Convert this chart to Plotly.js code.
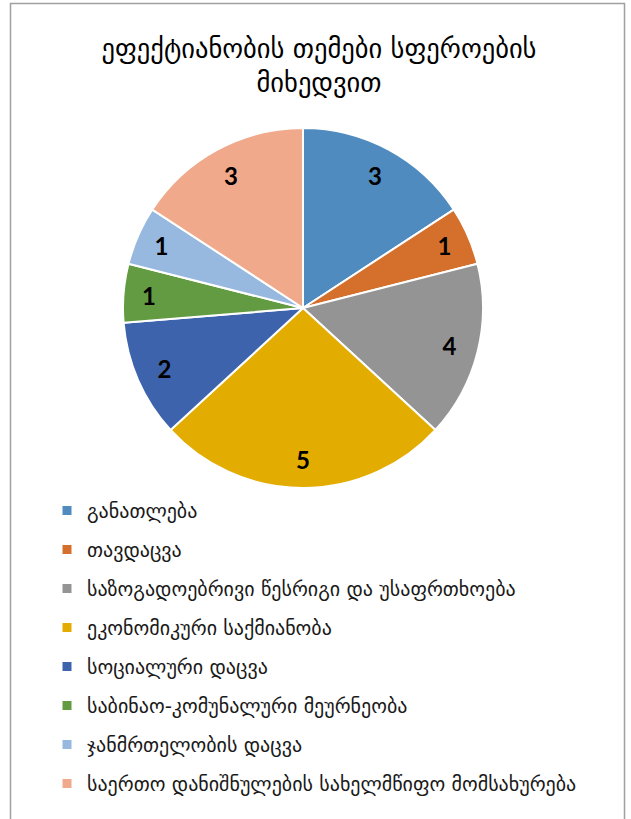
<!DOCTYPE html>
<html>
<head>
<meta charset="utf-8">
<script src="https://cdn.plot.ly/plotly-3.0.1.min.js"></script>
<style>
  html, body { margin: 0; padding: 0; background: #ffffff; }
  #chart { width: 631px; height: 819px; }
</style>
</head>
<body>
<div id="chart"></div>
<script>
// Categories (legend order = slice order, clockwise from 12 o'clock)
const categories = [
  "განათლება",
  "თავდაცვა",
  "საზოგადოებრივი წესრიგი და უსაფრთხოება",
  "ეკონომიკური საქმიანობა",
  "სოციალური დაცვა",
  "საბინაო-კომუნალური მეურნეობა",
  "ჯანმრთელობის დაცვა",
  "საერთო დანიშნულების სახელმწიფო მომსახურება"
];
// Slice sizes as measured from the slice angles in the picture
const sliceValues = [3, 1, 3, 5, 2, 1, 1, 3];
// Data labels exactly as printed on the slices in the picture
const dataLabels = ["3", "1", "4", "5", "2", "1", "1", "3"];
const sliceColors = ["#4f8bbf", "#d4702b", "#949494", "#e3ac00", "#3d63ac", "#629b41", "#97b8df", "#f0a98a"];

const titleText = "ეფექტიანობის თემები სფეროების<br>მიხედვით";

const W = 631, H = 819;
const cx = 303, cy = 308, R = 180;
const pieDomain = { x: [(cx - R) / W, (cx + R) / W], y: [1 - (cy + R) / H, 1 - (cy - R) / H] };

// Filled slices
const pieTrace = {
  type: "pie",
  labels: categories,
  values: sliceValues,
  textinfo: "none",
  sort: false,
  direction: "clockwise",
  rotation: 0,
  marker: { colors: sliceColors, line: { color: "#ffffff", width: 2 } },
  domain: pieDomain,
  showlegend: false,
  hoverinfo: "label+value"
};

// Transparent ring on top, only used to place the data labels near the outer edge
const labelRing = {
  type: "pie",
  labels: categories,
  values: sliceValues,
  text: dataLabels,
  textinfo: "text",
  textposition: "inside",
  insidetextorientation: "horizontal",
  hole: 0.68,
  sort: false,
  direction: "clockwise",
  rotation: 0,
  marker: { colors: sliceColors.map(() => "rgba(0,0,0,0)"), line: { width: 0 } },
  textfont: { family: "Lato, 'Open Sans', sans-serif", size: 24, color: "#000000", weight: 700 },
  domain: pieDomain,
  showlegend: false,
  hoverinfo: "skip"
};

// Legend entries (one per category, same colours)
const legendTraces = categories.map((c, i) => ({
  type: "scatter",
  mode: "markers",
  x: [null],
  y: [null],
  name: c,
  legendgroup: "g" + i,
  showlegend: true,
  marker: { symbol: "square", size: 9, color: sliceColors[i] },
  hoverinfo: "skip"
}));

const layout = {
  width: W,
  height: H,
  margin: { l: 0, r: 0, t: 0, b: 0 },
  paper_bgcolor: "#ffffff",
  plot_bgcolor: "rgba(0,0,0,0)",
  font: { family: "'DejaVu Sans', sans-serif", color: "#000000" },
  title: {
    text: titleText,
    font: { family: "'DejaVu Sans', sans-serif", size: 26.5, color: "#000000" },
    x: 319 / W,
    xanchor: "center",
    xref: "paper",
    yref: "paper",
    y: 1 - 58 / H,
    yanchor: "middle"
  },
  xaxis: { visible: false, domain: [0, 0.01] },
  yaxis: { visible: false, domain: [0, 0.01] },
  showlegend: true,
  legend: {
    x: 47 / W,
    xanchor: "left",
    y: 1 - 491 / H,
    yanchor: "top",
    traceorder: "grouped",
    tracegroupgap: 10,
    font: { family: "'DejaVu Sans', sans-serif", size: 20, color: "#1a1a1a" },
    bgcolor: "rgba(0,0,0,0)"
  },
  shapes: [
    {
      type: "rect", xref: "paper", yref: "paper",
      x0: 10.5 / W, x1: 624.5 / W, y0: -0.05, y1: 1 - 3.5 / H,
      line: { color: "#a0a0a0", width: 1.5 },
      fillcolor: "rgba(0,0,0,0)",
      layer: "below"
    }
  ]
};

Plotly.newPlot("chart", [pieTrace, labelRing].concat(legendTraces), layout, { displayModeBar: false, staticPlot: true });
</script>
</body>
</html>
